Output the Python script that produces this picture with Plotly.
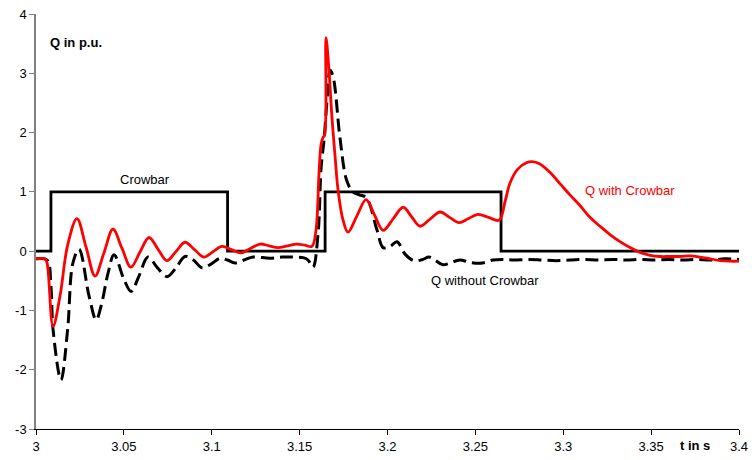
import plotly.graph_objects as go

# Crowbar signal (step)
t_crow = [3.0, 3.0085, 3.0085, 3.109, 3.109, 3.1645, 3.1645, 3.2646, 3.2646, 3.4]
q_crow = [0, 0, 1, 1, 0, 0, 1, 1, 0, 0]

# Q with Crowbar (red)
t_with = [3.0, 3.0051, 3.0063, 3.0097, 3.0137, 3.0180, 3.0233, 3.0285, 3.0336, 3.0387,
          3.0438, 3.0489, 3.0540, 3.0591, 3.0643, 3.0694, 3.0745, 3.0797, 3.0848, 3.0902,
          3.0956, 3.1007, 3.1058, 3.1112, 3.1166, 3.1220, 3.1275, 3.1326, 3.1377, 3.1431,
          3.1485, 3.1530, 3.1570, 3.1593, 3.1610, 3.1622, 3.1633, 3.1642, 3.1650, 3.1667,
          3.1683, 3.1703, 3.1718, 3.1745, 3.1775, 3.1826, 3.1878, 3.1926, 3.1975, 3.2032,
          3.2089, 3.2137, 3.2185, 3.2242, 3.2299, 3.2353, 3.2407, 3.2461, 3.2515, 3.2575,
          3.2635, 3.2670, 3.2697, 3.2740, 3.2790, 3.2822, 3.2867, 3.2924, 3.2981, 3.3038,
          3.3095, 3.3152, 3.3209, 3.3266, 3.3323, 3.3380, 3.3437, 3.3494, 3.3551, 3.3608,
          3.3665, 3.3722, 3.3779, 3.3836, 3.3893, 3.3950, 3.4]
q_with = [-0.13, -0.13, -0.2, -1.27, -0.75, 0.1, 0.55, 0.065, -0.42, -0.025,
          0.37, 0.05, -0.27, -0.02, 0.23, 0.035, -0.16, -0.005, 0.15, 0.025,
          -0.1, -0.01, 0.08, 0.025, -0.03, 0.045, 0.12, 0.09, 0.06, 0.09,
          0.12, 0.10, 0.08, 0.35, 1.30, 1.80, 1.92, 1.95, 3.60, 3.05,
          2.30, 1.55, 1.05, 0.55, 0.32, 0.595, 0.87, 0.61, 0.35, 0.545,
          0.74, 0.58, 0.42, 0.54, 0.66, 0.57, 0.48, 0.55, 0.62, 0.57,
          0.52, 0.85, 1.15, 1.38, 1.49, 1.51, 1.47, 1.33, 1.14, 0.95,
          0.77, 0.57, 0.42, 0.28, 0.16, 0.06, -0.02, -0.07, -0.09, -0.09,
          -0.09, -0.08, -0.10, -0.13, -0.16, -0.17, -0.17]

# Q without Crowbar (black dashed)
t_without = [3.0, 3.0063, 3.0085, 3.0097, 3.0142, 3.0180, 3.0210, 3.0245, 3.0302, 3.0342,
             3.0370, 3.0410, 3.0444, 3.0501, 3.0541, 3.0586, 3.0637, 3.0691, 3.0745, 3.0797,
             3.0848, 3.0896, 3.0944, 3.0996, 3.1047, 3.1090, 3.1132, 3.1183, 3.1235, 3.1331,
             3.1400, 3.1462, 3.1520, 3.1548, 3.1576, 3.1605, 3.1622, 3.1639, 3.1660, 3.1673,
             3.1690, 3.1730, 3.1767, 3.1803, 3.1840, 3.1880, 3.1940, 3.1975, 3.2015, 3.2054,
             3.2100, 3.2150, 3.2200, 3.2236, 3.2270, 3.2315, 3.2355, 3.2412, 3.2470, 3.2540,
             3.2600, 3.2650, 3.2720, 3.2800, 3.2880, 3.2960, 3.3040, 3.3120, 3.3200, 3.3280,
             3.3360, 3.3440, 3.3520, 3.3600, 3.3680, 3.3760, 3.3840, 3.3920, 3.4]
q_without = [-0.13, -0.15, -0.6, -1.32, -2.17, -1.32, -0.2, 0.03, -0.76, -1.16,
             -0.93, -0.37, -0.06, -0.48, -0.68, -0.42, -0.10, -0.28, -0.43, -0.28,
             -0.09, -0.15, -0.28, -0.22, -0.12, -0.15, -0.20, -0.15, -0.10, -0.12,
             -0.10, -0.10, -0.11, -0.15, -0.27, 0.30, 1.40, 1.88, 2.70, 3.05,
             2.95, 1.90, 1.20, 1.00, 0.95, 0.90, 0.36, 0.06, 0.08, 0.16,
             -0.05, -0.16, -0.14, -0.10, -0.15, -0.23, -0.20, -0.15, -0.19, -0.20,
             -0.15, -0.14, -0.15, -0.14, -0.15, -0.16, -0.15, -0.14, -0.15, -0.14,
             -0.15, -0.14, -0.15, -0.14, -0.15, -0.14, -0.15, -0.13, -0.14]

x_ticks = [3.0, 3.05, 3.1, 3.15, 3.2, 3.25, 3.3, 3.35, 3.4]
x_tick_labels = ["3", "3.05", "3.1", "3.15", "3.2", "3.25", "3.3", "3.35", "3.4"]
y_ticks = [-3, -2, -1, 0, 1, 2, 3, 4]
y_tick_labels = ["-3", "-2", "-1", "0", "1", "2", "3", "4"]

FONT = "Liberation Sans, Arial, sans-serif"

fig = go.Figure()
fig.add_trace(go.Scatter(x=t_crow, y=q_crow, mode="lines",
                         line=dict(color="black", width=2.8), showlegend=False))
fig.add_trace(go.Scatter(x=t_without, y=q_without, mode="lines",
                         line=dict(color="black", width=3, dash="13px,6px",
                                   shape="spline", smoothing=1.0),
                         showlegend=False))
fig.add_trace(go.Scatter(x=t_with, y=q_with, mode="lines",
                         line=dict(color="#ff0000", width=2.8, shape="spline", smoothing=1.0),
                         showlegend=False))

fig.update_layout(
    width=752, height=460,
    margin=dict(l=36, r=13, t=14, b=31),
    paper_bgcolor="white", plot_bgcolor="white",
    font=dict(family=FONT, size=13, color="black"),
    xaxis=dict(range=[3.0, 3.4], tickvals=x_ticks, ticktext=x_tick_labels,
               showgrid=False, zeroline=False, showline=True, linecolor="black",
               linewidth=1, ticks="outside", ticklen=5, tickcolor="black",
               automargin=False),
    yaxis=dict(range=[-3, 4], tickvals=y_ticks, ticktext=y_tick_labels,
               showgrid=False, zeroline=False, showline=True, linecolor="#808080",
               linewidth=1.5, ticks="outside", ticklen=5, tickcolor="#808080",
               automargin=False),
    annotations=[
        dict(x=3.0068, y=3.52, xref="x", yref="y", text="<b>Q in p.u.</b>",
             showarrow=False, xanchor="left", yanchor="middle", font=dict(size=13)),
        dict(x=3.375, y=-0.0386, xref="x", yref="paper", text="<b>t in s</b>",
             showarrow=False, xanchor="center", yanchor="middle", font=dict(size=13)),
        dict(x=3.062, y=1.21, xref="x", yref="y", text="Crowbar",
             showarrow=False, xanchor="center", yanchor="middle", font=dict(size=13)),
        dict(x=3.338, y=1.02, xref="x", yref="y", text="Q with Crowbar",
             showarrow=False, xanchor="center", yanchor="middle",
             font=dict(size=13, color="#ff0000")),
        dict(x=3.2555, y=-0.5, xref="x", yref="y", text="Q without Crowbar",
             showarrow=False, xanchor="center", yanchor="middle", font=dict(size=13)),
    ],
)

fig.write_html("out.html")
